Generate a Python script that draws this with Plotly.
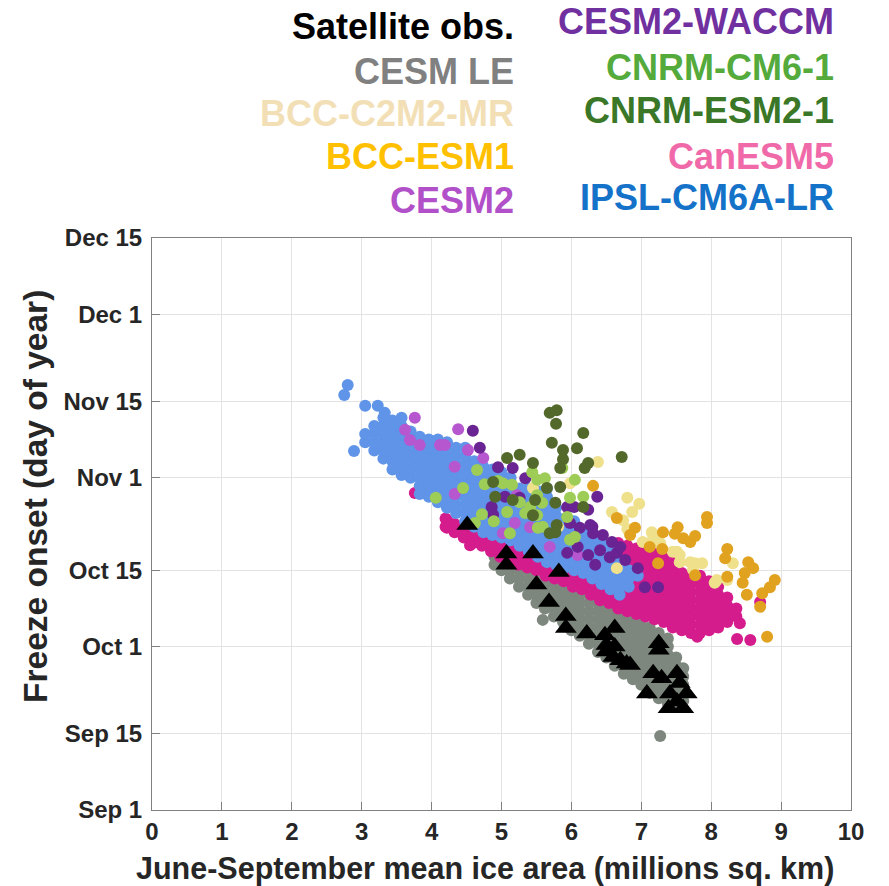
import plotly.graph_objects as go

# ---------------- axis ticks ----------------
tick_days = [244, 258, 274, 288, 305, 319, 335, 349]
tick_labels = ["Sep 1", "Sep 15", "Oct 1", "Oct 15", "Nov 1", "Nov 15", "Dec 1", "Dec 15"]
x_ticks = [0, 1, 2, 3, 4, 5, 6, 7, 8, 9, 10]

# ---------------- data: (ice area, freeze-onset day of year) ----------------
# dense clouds are listed column by column: {ice area: [days...]}
cesm_le_cols = {
    4.90: [289, 290.5],
    5.00: [288, 289.5, 291],
    5.12: [286.5, 288, 289.5, 291],
    5.25: [285, 286.5, 288, 289.5],
    5.38: [283.5, 285, 286.5, 288, 289.5],
    5.50: [282, 283.5, 285, 286.5, 288],
    5.62: [281, 282.5, 284, 285.5, 287],
    5.75: [279.5, 281, 282.5, 284, 285.5, 287],
    5.88: [278.5, 280, 281.5, 283, 284.5, 286],
    6.00: [277, 278.5, 280, 281.5, 283, 284.5, 286],
    6.12: [276, 277.5, 279, 280.5, 282, 283.5, 285],
    6.25: [274.5, 276, 277.5, 279, 280.5, 282, 283.5],
    6.38: [273, 274.5, 276, 277.5, 279, 280.5, 282, 283.5],
    6.50: [272, 273.5, 275, 276.5, 278, 279.5, 281, 282.5],
    6.62: [270.5, 272, 273.5, 275, 276.5, 278, 279.5, 281],
    6.75: [269, 270.5, 272, 273.5, 275, 276.5, 278, 279.5, 281],
    6.88: [268, 269.5, 271, 272.5, 274, 275.5, 277, 278.5, 280],
    7.00: [267, 268.5, 270, 271.5, 273, 274.5, 276, 277.5, 279],
    7.12: [265.5, 267, 268.5, 270, 271.5, 273, 274.5, 276, 277.5],
    7.25: [264.5, 266, 267.5, 269, 270.5, 272, 273.5, 275, 276.5],
    7.38: [263.5, 265, 266.5, 268, 269.5, 271, 272.5, 274, 275.5],
    7.50: [263, 264.5, 266, 267.5, 269, 270.5, 272],
    7.60: [264, 265.5, 267, 268.5, 270],
}
cesm_le_extra = [(5.59, 278.9), (7.27, 257.6)]

canesm5_cols = {
    4.20: [296, 297.5],
    4.33: [295, 296.5],
    4.46: [294, 295.5],
    4.59: [293, 294.5, 296],
    4.72: [292.5, 294, 295.5],
    4.85: [291.5, 293, 294.5],
    4.98: [290.5, 292, 293.5],
    5.11: [290, 291.5, 293],
    5.24: [289, 290.5, 292, 293.5],
    5.37: [288.5, 290, 291.5, 293],
    5.50: [288, 289.5, 291, 292.5],
    5.63: [287, 288.5, 290, 291.5],
    5.76: [286.5, 288, 289.5, 291],
    5.89: [286, 287.5, 289, 290.5],
    6.02: [285, 286.5, 288, 289.5],
    6.15: [284.5, 286, 287.5, 289, 290.5],
    6.28: [283.5, 285, 286.5, 288, 289.5, 291],
    6.41: [282.5, 284, 285.5, 287, 288.5, 290, 291.5],
    6.54: [282, 283.5, 285, 286.5, 288, 289.5, 291, 292.5],
    6.67: [281, 282.5, 284, 285.5, 287, 288.5, 290, 291.5, 293],
    6.80: [280.5, 282, 283.5, 285, 286.5, 288, 289.5, 291, 292.5],
    6.93: [280, 281.5, 283, 284.5, 286, 287.5, 289, 290.5, 292],
    7.06: [279.5, 281, 282.5, 284, 285.5, 287, 288.5, 290, 291.5],
    7.19: [279, 280.5, 282, 283.5, 285, 286.5, 288, 289.5, 291],
    7.32: [278.5, 280, 281.5, 283, 284.5, 286, 287.5, 289, 290.5],
    7.45: [277.5, 279, 280.5, 282, 283.5, 285, 286.5, 288, 289.5],
    7.58: [277, 278.5, 280, 281.5, 283, 284.5, 286, 287.5],
    7.71: [276.5, 278, 279.5, 281, 282.5, 284, 285.5, 287],
    7.84: [276.5, 278, 279.5, 281, 282.5, 284, 285.5, 287],
    7.97: [277, 278.5, 280, 281.5, 283, 284.5, 286],
    8.10: [277.5, 279, 280.5, 282, 283.5, 285],
    8.23: [278.5, 280, 281.5, 283],
    8.36: [279.5, 281],
}
canesm5_extra = [(8.70, 282.2), (8.41, 278.3), (8.37, 275.4), (8.56, 275.2),
                 (8.08, 277.6), (7.80, 275.8), (3.76, 302.2), (4.22, 297.2),
                 (4.22, 295.8), (4.55, 292.6)]

ipsl_cols = {
    3.05: [311.5, 313],
    3.18: [310, 311.5, 313, 314.5],
    3.31: [308.5, 310, 311.5, 313, 314.5, 316],
    3.44: [306.5, 308, 309.5, 311, 312.5, 314, 315.5],
    3.57: [305.5, 307, 308.5, 310, 311.5, 313, 314.5, 316],
    3.70: [305, 306.5, 308, 309.5, 311, 312.5, 313.5],
    3.83: [302, 303.5, 305, 306.5, 308, 309.5, 311, 312.5],
    3.96: [301.5, 303, 304.5, 306, 307.5, 309, 310.5, 312],
    4.09: [300.5, 302, 303.5, 305, 306.5, 308, 309.5, 311, 312],
    4.22: [299.5, 301, 302.5, 304, 305.5, 307, 308.5, 310, 311.5],
    4.35: [298.5, 300, 301.5, 303, 304.5, 306, 307.5, 309, 310.5],
    4.48: [297, 298.5, 300, 301.5, 303, 304.5, 306, 307.5, 309, 310.5],
    4.61: [296, 297.5, 299, 300.5, 302, 303.5, 305, 306.5, 308],
    4.74: [295, 296.5, 298, 299.5, 301, 302.5, 304, 305.5, 307],
    4.87: [294.5, 296, 297.5, 299, 300.5, 302, 303.5, 305, 306.5],
    5.00: [294, 295.5, 297, 298.5, 300, 301.5, 303, 304.5, 306],
    5.13: [293.5, 295, 296.5, 298, 299.5, 301, 302.5, 304, 305],
    5.26: [292.5, 294, 295.5, 297, 298.5, 300, 301.5, 303],
    5.39: [291.5, 293, 294.5, 296, 297.5, 299, 300.5, 302, 303],
    5.52: [290.5, 292, 293.5, 295, 296.5, 298, 299.5, 301, 302.5],
    5.65: [289.5, 291, 292.5, 294, 295.5, 297, 298.5, 300, 301.5, 303],
    5.78: [289, 290.5, 292, 293.5, 295, 296.5, 298, 299.5],
    5.91: [288.5, 290, 291.5, 293, 294.5, 296, 297.5],
    6.04: [288, 289.5, 291, 292.5, 294, 295.5, 297],
    6.17: [287.5, 289, 290.5, 292, 293.5, 295],
    6.30: [286.5, 288, 289.5, 291, 292.5, 294],
    6.43: [285.5, 287, 288.5, 290, 291.5, 293],
    6.56: [284.5, 286, 287.5, 289, 290.5, 292],
    6.69: [283.5, 285, 286.5, 288, 289.5],
    6.82: [285, 286.5, 288],
    6.95: [287],
}
ipsl_extra = [(2.80, 322.0), (2.75, 320.2), (2.89, 309.9), (3.05, 318.2),
              (3.23, 318.2), (3.33, 316.9)]

bcc_c2m2_mr = [(6.38, 307.9), (5.98, 304.0), (6.80, 301.3), (6.97, 300.2), (6.58, 298.7),
               (6.87, 298.7), (6.74, 297.2), (6.80, 295.6), (7.15, 295.0), (7.27, 293.0),
               (7.51, 291.4), (7.02, 293.2), (7.45, 291.4), (7.55, 290.8), (7.55, 289.5),
               (7.70, 289.5), (7.77, 289.3), (7.87, 289.3), (7.74, 288.1), (6.65, 288.4),
               (8.05, 285.7), (8.31, 289.3), (8.23, 286.2), (8.08, 286.2), (7.17, 293.9),
               (5.45, 303.1), (5.81, 296.0)]

bcc_esm1 = [(6.65, 297.6), (6.91, 295.8), (6.84, 294.5), (7.31, 295.0), (7.52, 295.9),
            (7.48, 294.7), (7.60, 293.9), (7.70, 293.2), (7.77, 294.3), (7.94, 297.8),
            (7.94, 296.7), (8.23, 291.9), (7.12, 292.3), (7.30, 291.9), (6.31, 303.5),
            (8.20, 290.2), (8.23, 286.8), (8.53, 289.5), (8.60, 288.4), (8.48, 287.5),
            (8.45, 285.7), (8.51, 283.5), (8.73, 283.8), (8.84, 284.9), (8.91, 286.2),
            (8.70, 281.3), (8.80, 275.8), (7.77, 287.1), (7.24, 289.3)]

cesm2 = [(3.76, 316.0), (3.62, 313.8), (3.69, 311.9), (3.83, 311.0), (4.12, 311.0),
         (4.19, 311.0), (4.38, 313.9), (4.52, 310.1), (4.74, 308.6), (4.33, 307.0),
         (4.33, 302.0), (5.19, 296.7), (5.41, 295.9), (5.69, 292.3), (6.09, 290.8),
         (5.02, 294.8), (5.22, 301.8)]

cesm2_waccm = [(4.59, 313.6), (4.69, 310.5), (4.95, 306.9), (5.16, 306.8), (5.34, 304.9),
               (5.26, 301.3), (5.05, 301.5), (4.86, 299.6), (4.88, 298.2), (5.94, 299.6),
               (6.37, 301.5), (5.98, 296.7), (6.12, 295.8), (6.27, 296.3), (6.31, 294.8),
               (6.45, 294.5), (6.41, 291.7), (6.09, 292.3), (5.94, 291.2), (6.55, 290.4),
               (6.65, 291.2), (6.77, 289.9), (6.70, 292.3), (6.24, 299.1), (6.58, 293.2),
               (6.24, 290.8), (6.34, 289.0), (6.95, 288.4), (7.05, 284.9), (7.24, 284.9),
               (6.04, 299.6), (6.30, 296.0)]

cnrm_cm6_1 = [(4.65, 306.4), (4.95, 304.4), (4.76, 303.8), (4.45, 303.1), (4.06, 301.3),
              (4.72, 298.3), (4.89, 297.0), (4.62, 296.7), (5.15, 303.7), (5.26, 300.5),
              (5.08, 298.7), (5.12, 294.8), (5.44, 306.0), (5.51, 304.6), (5.62, 304.9),
              (5.51, 301.8), (5.58, 300.4), (5.41, 299.6), (5.34, 298.5), (5.51, 298.1),
              (5.59, 296.0), (5.52, 295.8), (5.87, 306.8), (6.05, 304.6), (5.98, 301.3),
              (6.17, 301.5), (5.94, 297.8), (6.05, 294.1), (5.98, 293.6), (5.02, 304.0)]

cnrm_esm2_1 = [(5.69, 316.9), (5.79, 317.4), (5.78, 314.9), (6.17, 313.2), (5.72, 311.4),
               (6.08, 310.4), (5.88, 310.1), (5.88, 308.4), (6.24, 307.7), (6.19, 306.8),
               (6.72, 308.8), (5.26, 309.2), (5.08, 308.6), (5.45, 307.7), (5.84, 306.8),
               (5.65, 303.1), (5.84, 303.3), (4.88, 304.2), (4.91, 301.5), (5.16, 300.9),
               (5.48, 300.9), (5.77, 300.4), (5.45, 298.1), (5.79, 296.3), (5.77, 295.0),
               (5.69, 294.8), (6.17, 299.6)]

satellite = [(4.51, 296.3), (5.07, 291.1), (5.07, 289.0), (5.45, 291.1), (5.82, 287.7),
             (5.50, 285.4), (5.68, 282.2), (5.92, 279.6), (5.92, 277.4), (6.22, 276.4),
             (6.48, 276.1), (6.62, 277.4), (6.50, 274.3), (6.62, 274.0), (6.60, 272.1),
             (6.70, 271.5), (6.84, 270.6), (7.25, 274.6), (7.25, 273.4), (7.17, 269.1),
             (7.29, 268.2), (7.08, 265.4), (7.51, 269.1), (7.55, 267.3), (7.41, 265.4),
             (7.65, 265.4), (7.39, 262.7), (7.60, 262.7), (7.51, 263.9), (6.50, 273.1),
             (6.79, 270.9)]

legend_left = [("Satellite obs.", "#000000"), ("CESM LE", "#808080"),
               ("BCC-C2M2-MR", "#f3dfb6"), ("BCC-ESM1", "#ffc000"), ("CESM2", "#b150c8")]
legend_right = [("CESM2-WACCM", "#7030a0"), ("CNRM-CM6-1", "#55aa3c"),
                ("CNRM-ESM2-1", "#3a7727"), ("CanESM5", "#f06aaa"), ("IPSL-CM6A-LR", "#1572c9")]


def expand(cols, extra):
    pts = [(x, d) for x, days in cols.items() for d in days]
    return pts + list(extra)


series = [
    ("CESM LE", expand(cesm_le_cols, cesm_le_extra), "#7e877e"),
    ("CanESM5", expand(canesm5_cols, canesm5_extra), "#d51c8d"),
    ("IPSL-CM6A-LR", expand(ipsl_cols, ipsl_extra), "#5f94e8"),
    ("BCC-C2M2-MR", bcc_c2m2_mr, "#efe08c"),
    ("BCC-ESM1", bcc_esm1, "#e0a21f"),
    ("CESM2", cesm2, "#b657cf"),
    ("CESM2-WACCM", cesm2_waccm, "#6a2393"),
    ("CNRM-CM6-1", cnrm_cm6_1, "#9dcd56"),
    ("CNRM-ESM2-1", cnrm_esm2_1, "#53692b"),
]

fig = go.Figure()
for name, pts, col in series:
    fig.add_trace(go.Scatter(
        x=[p[0] for p in pts], y=[p[1] for p in pts], mode="markers", name=name,
        marker=dict(size=12, color=col, line=dict(width=0)), showlegend=False))

fig.add_trace(go.Scatter(
    x=[p[0] for p in satellite], y=[p[1] for p in satellite], mode="markers",
    name="Satellite obs.", showlegend=False,
    marker=dict(symbol="triangle-up", size=19, color="#000000", line=dict(width=0))))

FONT = "Liberation Sans, Arial, Helvetica, sans-serif"
axis_common = dict(showline=True, mirror=True, linecolor="#808080", linewidth=1,
                   ticks="inside", ticklen=8, tickcolor="#808080",
                   showgrid=True, gridcolor="#e3e3e3", gridwidth=1, zeroline=False,
                   tickfont=dict(family=FONT, size=24, color="#262626", weight="bold"))

fig.update_xaxes(range=[0, 10], tickvals=x_ticks, ticktext=[str(v) for v in x_ticks],
                 **axis_common)
fig.update_yaxes(range=[244, 349], tickvals=tick_days, ticktext=tick_labels,
                 ticklabelstandoff=4, **axis_common)

annotations = []
left_y = [27, 71, 114, 157, 200]
right_y = [22, 67, 110, 156, 198]
for (txt, col), py in zip(legend_left, left_y):
    annotations.append(dict(text=txt, xref="paper", yref="paper",
                            x=(516 - 152) / 699, y=(810 - py) / 572,
                            xanchor="right", yanchor="middle", showarrow=False,
                            font=dict(family=FONT, size=36, color=col, weight="bold")))
for (txt, col), py in zip(legend_right, right_y):
    annotations.append(dict(text=txt, xref="paper", yref="paper",
                            x=(836 - 152) / 699, y=(810 - py) / 572,
                            xanchor="right", yanchor="middle", showarrow=False,
                            font=dict(family=FONT, size=36, color=col, weight="bold")))

annotations.append(dict(text="June-September mean ice area (millions sq. km)",
                        xref="paper", yref="paper",
                        x=(484.5 - 152) / 699, y=(810 - 868) / 572,
                        xanchor="center", yanchor="middle", showarrow=False,
                        font=dict(family=FONT, size=30.5, color="#262626", weight="bold")))
annotations.append(dict(text="Freeze onset (day of year)", xref="paper", yref="paper",
                        x=(35 - 152) / 699, y=(810 - 497) / 572, textangle=-90,
                        xanchor="center", yanchor="middle", showarrow=False,
                        font=dict(family=FONT, size=33.5, color="#262626", weight="bold")))

fig.update_layout(width=889, height=886, margin=dict(l=152, r=38, t=238, b=76),
                  plot_bgcolor="white", paper_bgcolor="white",
                  annotations=annotations, showlegend=False)

fig.write_html("out.html")
